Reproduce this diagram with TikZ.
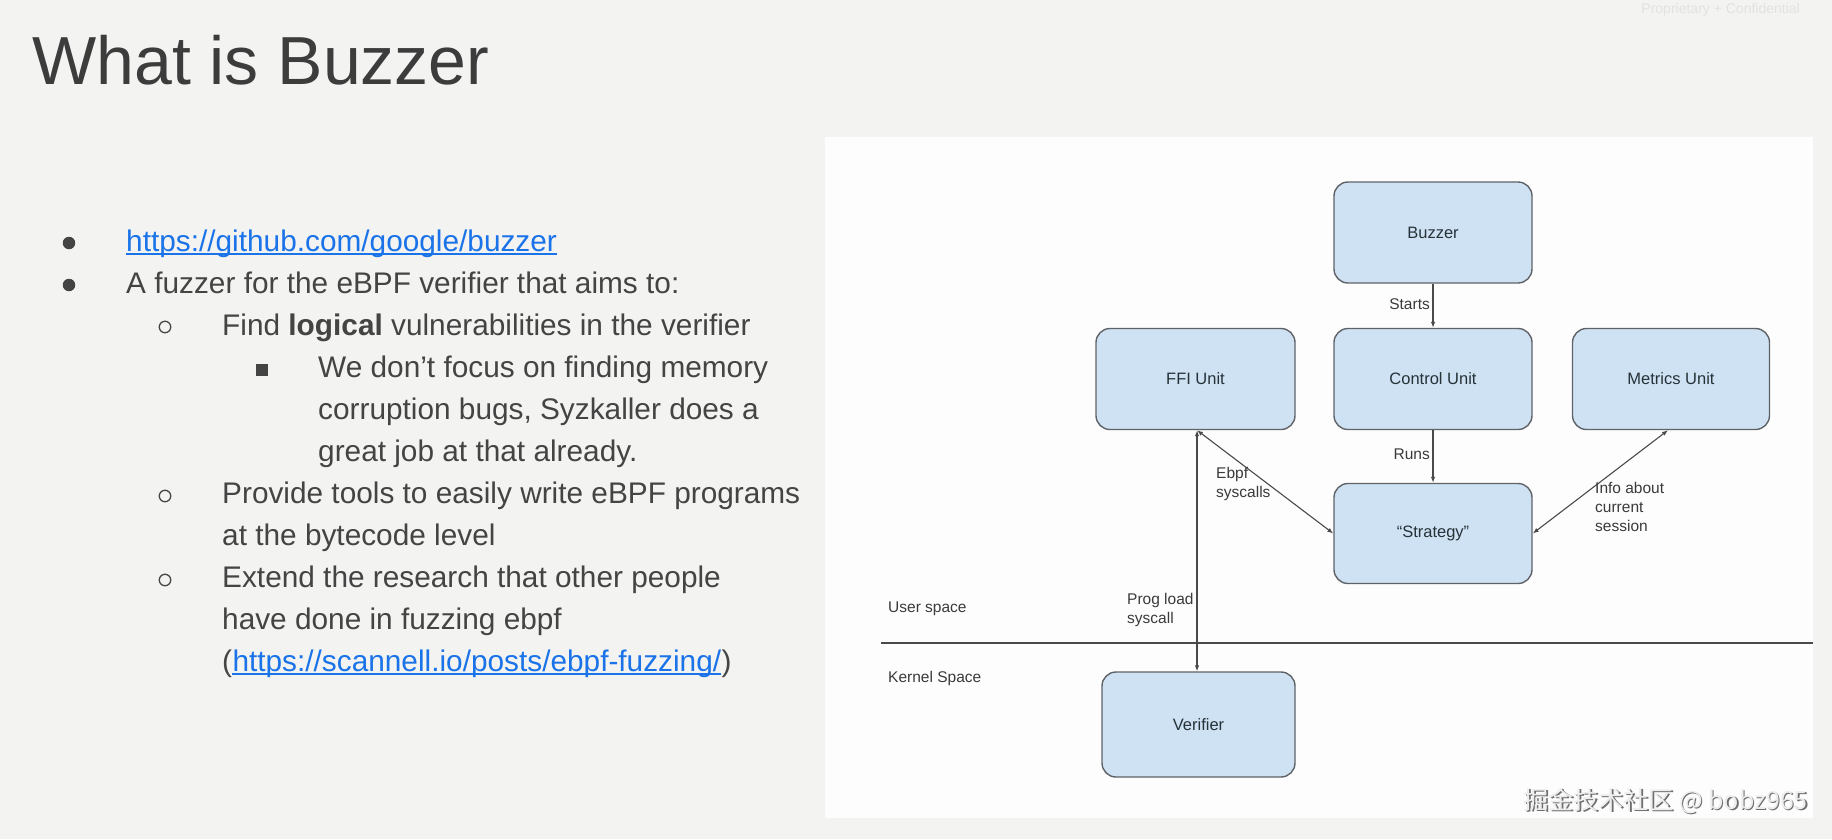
\documentclass[tikz,border=0pt]{standalone}
\usepackage{fontspec}
\setmainfont{Liberation Sans}
\newfontfamily\cjkfont{Noto Sans CJK SC}
\usetikzlibrary{arrows.meta}
\definecolor{bgc}{HTML}{F3F3F1}
\definecolor{panelc}{HTML}{FDFDFD}
\definecolor{boxfill}{HTML}{CFE2F3}
\definecolor{boxline}{HTML}{5F6368}
\definecolor{boxtext}{HTML}{263238}
\definecolor{bodytext}{HTML}{444444}
\definecolor{titletext}{HTML}{3C3C3C}
\definecolor{linkc}{HTML}{1A73E8}
\definecolor{arrowc}{HTML}{4A4A4A}
\definecolor{labeltext}{HTML}{3A3A3A}
\definecolor{faint}{HTML}{E2E2E2}
\definecolor{wmshadow}{HTML}{6E6E6E}
\definecolor{wmtext}{HTML}{EDEDED}
\begin{document}
\begin{tikzpicture}[x=1pt,y=-1pt,
  unitbox/.style={draw=boxline, line width=1.4pt, fill=boxfill, rounded corners=14pt,
    inner sep=0pt, text=boxtext, font=\fontsize{16.5}{19}\selectfont},
  lbl/.style={inner sep=0pt, text=labeltext, align=left, font=\fontsize{15.5}{19}\selectfont},
  body/.style={inner sep=0pt, anchor=base west, text=bodytext, font=\fontsize{29.8}{36}\selectfont},
  linktext/.style={body, text=linkc},
  linkline/.style={draw=linkc, line width=1.6pt},
  conn/.style={draw=arrowc, line width=1.1pt},
  tip/.tip={Latex[length=6pt,width=4.5pt]},
  dotbullet/.style={circle, fill=bodytext, minimum size=12.5pt, inner sep=0pt},
  ringbullet/.style={circle, draw=bodytext, line width=1.3pt, minimum size=11.5pt, inner sep=0pt},
  sqbullet/.style={rectangle, fill=bodytext, minimum size=12pt, inner sep=0pt}
]
\useasboundingbox (0,0) rectangle (1832,839);
\fill[bgc] (0,0) rectangle (1832,839);
\fill[panelc] (825,137) rectangle (1813,818);

% header
\node[inner sep=0pt, anchor=base west, text=titletext, font=\fontsize{68}{78}\selectfont] (title) at (32,84) {What is Buzzer};
\node[inner sep=0pt, anchor=east, text=faint, font=\fontsize{14}{16}\selectfont] (conf) at (1800,10) {Proprietary + Confidential};

% bullets
\node[dotbullet] (b1) at (69,243) {};
\node[dotbullet] (b2) at (69,285) {};
\node[ringbullet] (c1) at (165,327) {};
\node[sqbullet] (s1) at (262,370) {};
\node[ringbullet] (c2) at (165,496) {};
\node[ringbullet] (c3) at (165,580) {};

\node[linktext] (l1) at (126,251) {https://github.com/google/buzzer};
\draw[linkline] ([yshift=-3pt]l1.base west) -- ([yshift=-3pt]l1.base east);
\node[body] (l2) at (126,293) {A fuzzer for the eBPF verifier that aims to:};
\node[body] (l3) at (222,335) {Find \textbf{logical} vulnerabilities in the verifier};
\node[body] (l4) at (318,377) {We don’t focus on finding memory};
\node[body] (l5) at (318,419) {corruption bugs, Syzkaller does a};
\node[body] (l6) at (318,461) {great job at that already.};
\node[body] (l7) at (222,503) {Provide tools to easily write eBPF programs};
\node[body] (l8) at (222,545) {at the bytecode level};
\node[body] (l9) at (222,587) {Extend the research that other people};
\node[body] (l10) at (222,629) {have done in fuzzing ebpf};
\node[body] (lp) at (222,671) {(};
\node[linktext] (l11) at (lp.base east) {https://scannell.io/posts/ebpf-fuzzing/};
\node[body] (rp) at (l11.base east) {)};
\draw[linkline] ([yshift=-3pt]l11.base west) -- ([yshift=-3pt]l11.base east);

% diagram boxes
\node[unitbox, minimum width=198pt, minimum height=101pt] (buzzer) at (1433,232.5) {Buzzer};
\node[unitbox, minimum width=198pt, minimum height=101pt] (control) at (1433,379) {Control Unit};
\node[unitbox, minimum width=199pt, minimum height=101pt] (ffi) at (1195.5,379) {FFI Unit};
\node[unitbox, minimum width=197pt, minimum height=101pt] (metrics) at (1671,379) {Metrics Unit};
\node[unitbox, minimum width=198pt, minimum height=100pt] (strategy) at (1433,533.5) {“Strategy”};
\node[unitbox, minimum width=193pt, minimum height=105pt] (verifier) at (1198.5,724.5) {Verifier};

% separator
\coordinate (sepL) at (881,643);
\coordinate (sepR) at (1813,643);
\draw[draw=arrowc, line width=1.4pt] (sepL) -- (sepR);

% connectors
\draw[conn, -tip] (buzzer.south) -- (control.north);
\draw[conn, -tip] (control.south) -- (strategy.north);
\draw[conn, tip-tip] ([xshift=1.5pt]ffi.south) -- ([xshift=1.5pt]ffi.south |- verifier.north);
\draw[conn, tip-tip] ([xshift=1.5pt]ffi.south) -- (strategy.west);
\draw[conn, tip-tip] ([xshift=-3pt]metrics.south) -- (strategy.east);

% labels
\node[lbl, anchor=east] (starts) at (1430,304) {Starts};
\node[lbl, anchor=east] (runs) at (1430,454) {Runs};
\node[lbl, anchor=west] (ebpf) at (1216,484) {Ebpf\\syscalls};
\node[lbl, anchor=west] (prog) at (1127,610) {Prog load\\syscall};
\node[lbl, anchor=west] (info) at (1595,507) {Info about\\current\\session};
\node[lbl, anchor=west] (user) at (888,609) {User space};
\node[lbl, anchor=west] (kernel) at (888,678) {Kernel Space};

% watermark
\node[inner sep=0pt, anchor=east, text=wmshadow, font=\cjkfont\fontsize{25}{28}\selectfont] (wmsh) at (1809.5,802.5) {掘金技术社区 @ bobz965};
\node[inner sep=0pt, anchor=east, text=wmtext, font=\cjkfont\fontsize{25}{28}\selectfont] (wm) at (1808,801) {掘金技术社区 @ bobz965};
\end{tikzpicture}
\end{document}
